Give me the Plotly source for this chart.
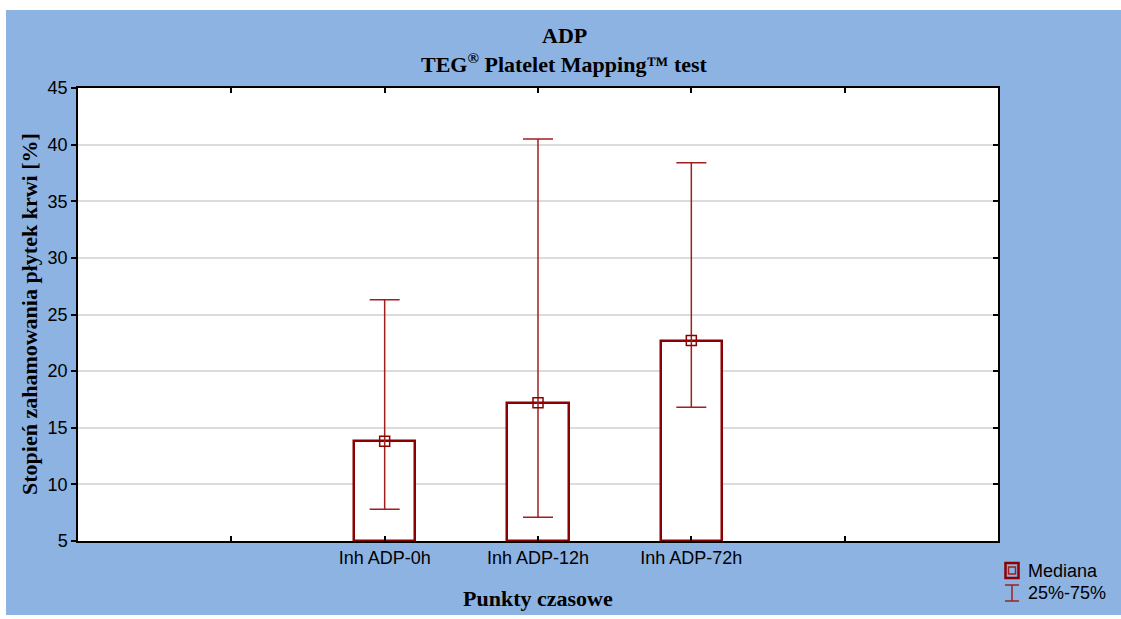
import plotly.graph_objects as go

# ---- data ----
categories = ["Inh ADP-0h", "Inh ADP-12h", "Inh ADP-72h"]
cat_pos = [2, 3, 4]
mediana = [13.8, 17.2, 22.7]
q25 = [7.8, 7.1, 16.8]
q75 = [26.3, 40.5, 38.4]
y_base = 5
y_ticks = [5, 10, 15, 20, 25, 30, 35, 40, 45]

DARK = "#8b0000"
WHISK = "#a02020"
BLUE = "#8db3e2"

FW, FH = 1121, 619
# plot area in page pixels: x 78..998, y 88..541
L, R, T, B = 78, 998, 88, 541
W, H = R - L, B - T
def px(x):
    return (x - L) / W
def py(y):
    return (B - y) / H

fig = go.Figure()

fig.add_trace(go.Bar(
    x=cat_pos, y=[m - y_base for m in mediana], base=y_base, width=0.4,
    marker=dict(color="white", line=dict(color=DARK, width=2.5)),
    showlegend=False, hoverinfo="skip"))

fig.add_trace(go.Scatter(
    x=cat_pos, y=mediana, mode="markers",
    marker=dict(symbol="square-open", size=10, color=DARK, line=dict(width=1.5)),
    error_y=dict(type="data", symmetric=False,
                 array=[u - m for u, m in zip(q75, mediana)],
                 arrayminus=[m - l for m, l in zip(mediana, q25)],
                 color=WHISK, thickness=1.5, width=15),
    showlegend=False, hoverinfo="skip"))

# invisible trace for right mirrored axis
fig.add_trace(go.Scatter(x=[cat_pos[0]], y=[mediana[0]], yaxis="y2", mode="markers",
                         marker=dict(opacity=0), showlegend=False, hoverinfo="skip"))

shapes = [
    # white strips outside the blue panel
    dict(type="rect", xref="paper", yref="paper", layer="below",
         x0=px(-20), x1=px(1200), y0=py(10), y1=py(-20),
         fillcolor="white", line=dict(width=0)),
    dict(type="rect", xref="paper", yref="paper", layer="below",
         x0=px(-20), x1=px(1200), y0=py(660), y1=py(615),
         fillcolor="white", line=dict(width=0)),
    dict(type="rect", xref="paper", yref="paper", layer="below",
         x0=px(-20), x1=px(6), y0=py(660), y1=py(-20),
         fillcolor="white", line=dict(width=0)),
    # legend symbols
    dict(type="rect", xref="paper", yref="paper",
         x0=px(1005.5), x1=px(1018.5), y0=py(578), y1=py(563),
         line=dict(color=DARK, width=2.5)),
    dict(type="rect", xref="paper", yref="paper",
         x0=px(1008.5), x1=px(1015.5), y0=py(574), y1=py(567),
         line=dict(color=WHISK, width=1.5)),
    dict(type="line", xref="paper", yref="paper",
         x0=px(1012), x1=px(1012), y0=py(601), y1=py(585),
         line=dict(color=WHISK, width=1.5)),
    dict(type="line", xref="paper", yref="paper",
         x0=px(1005), x1=px(1019), y0=py(585), y1=py(585),
         line=dict(color=WHISK, width=1.5)),
    dict(type="line", xref="paper", yref="paper",
         x0=px(1005), x1=px(1019), y0=py(601), y1=py(601),
         line=dict(color=WHISK, width=1.5)),
]

SERIF = "Liberation Serif"
SANS = "Liberation Sans"
annotations = [
    dict(text="<b>ADP</b>", xref="paper", yref="paper", x=px(564), y=py(35),
         showarrow=False, font=dict(family=SERIF, size=22, color="black"),
         xanchor="center", yanchor="middle"),
    dict(text="<b>TEG<sup>®</sup> Platelet Mapping™ test</b>", xref="paper", yref="paper",
         x=px(564), y=py(63), showarrow=False,
         font=dict(family=SERIF, size=22, color="black"),
         xanchor="center", yanchor="middle"),
    dict(text="<b>Punkty czasowe</b>", xref="paper", yref="paper", x=px(538), y=py(598),
         showarrow=False, font=dict(family=SERIF, size=22, color="black"),
         xanchor="center", yanchor="middle"),
    dict(text="<b>Stopień zahamowania płytek krwi [%]</b>", xref="paper", yref="paper",
         x=px(29), y=py(314), textangle=-90, showarrow=False,
         font=dict(family=SERIF, size=22, color="black"),
         xanchor="center", yanchor="middle"),
    dict(text="Mediana", xref="paper", yref="paper", x=px(1026), y=py(571),
         showarrow=False, font=dict(family=SANS, size=18, color="black"),
         xanchor="left", yanchor="middle"),
    dict(text="25%-75%", xref="paper", yref="paper", x=px(1026), y=py(593),
         showarrow=False, font=dict(family=SANS, size=18, color="black"),
         xanchor="left", yanchor="middle"),
]

fig.update_layout(
    width=FW, height=FH,
    margin=dict(l=L, r=FW - R, t=T, b=FH - B, autoexpand=False),
    paper_bgcolor=BLUE, plot_bgcolor="white",
    shapes=shapes, annotations=annotations, showlegend=False,
    xaxis=dict(range=[0, 6], tickvals=cat_pos, ticktext=categories,
               ticks="inside", ticklen=5, tickcolor="black", tickwidth=1.5,
               minor=dict(tick0=0, dtick=1, ticks="inside", ticklen=5,
                          tickcolor="black", tickwidth=1.5, showgrid=False),
               showline=True, linecolor="black", linewidth=1.5, mirror="ticks",
               showgrid=False, zeroline=False,
               tickfont=dict(family=SANS, size=18, color="black")),
    yaxis=dict(range=[5, 45], tickvals=y_ticks,
               ticks="outside", ticklen=5, tickcolor="black", tickwidth=1.5,
               showline=True, linecolor="black", linewidth=1.5,
               showgrid=True, gridcolor="#dcdcdc", gridwidth=1.5, zeroline=False,
               tickfont=dict(family=SANS, size=18, color="black")),
    yaxis2=dict(range=[5, 45], tickvals=y_ticks, overlaying="y", side="right",
                ticks="inside", ticklen=5, tickcolor="black", tickwidth=1.5,
                showline=True, linecolor="black", linewidth=1.5,
                showticklabels=False, showgrid=False, zeroline=False),
    bargap=0,
)

fig.write_html("out.html", config={"displayModeBar": False},
               post_script="document.body.style.margin='0';document.body.style.overflow='hidden';")
